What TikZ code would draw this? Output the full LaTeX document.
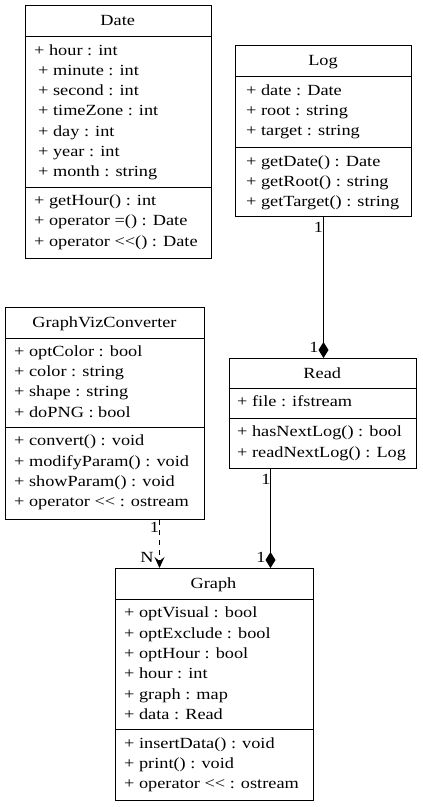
\documentclass[tikz,border=0pt]{standalone}
\usepackage{fontspec}
\setmainfont{Liberation Serif}[FakeStretch=1.18]
\usetikzlibrary{arrows.meta}

\tikzset{
    classbox/.style={draw, line width=1pt, anchor=north west, inner sep=0pt},
    classname/.style={anchor=base, inner sep=0pt, font=\fontsize{15.5}{17}\selectfont},
    member/.style={anchor=base west, inner sep=0pt, font=\fontsize{15.5}{17}\selectfont},
    mult/.style={inner sep=0pt, font=\fontsize{15.5}{17}\selectfont},
    divider/.style={line width=1pt},
    composition/.style={line width=1pt, -{Diamond[length=16pt,width=10pt]}},
    dependency/.style={line width=1pt, dash pattern=on 5pt off 5pt,
        -{Stealth[length=11pt,width=10pt,inset=4pt]}},
}

\begin{document}
\begin{tikzpicture}[x=1pt,y=-1pt]
    \useasboundingbox (0,0) rectangle (423,807);

    % Date
    \node[classbox, minimum width=186.5pt, minimum height=252.5pt] (date) at (24.5,5) {};
    \node[classname] (date-name) at (117.75,25.7) {Date};
    \draw[divider] (date.west |- 0,36.7) -- (date.east |- 0,36.7);
    \draw[divider] (date.west |- 0,187.3) -- (date.east |- 0,187.3);
    \foreach \txt [count=\i] in {+ hour : int, \hspace*{4pt}+ minute : int,
        \hspace*{4pt}+ second : int, \hspace*{4pt}+ timeZone : int,
        \hspace*{4pt}+ day : int, \hspace*{4pt}+ year : int,
        \hspace*{4pt}+ month : string} {
        \node[member] (date-a\i) at (34,34.7+20.3*\i) {\txt};
    }
    \foreach \txt [count=\i] in {+ getHour() : int, + operator =() : Date,
        + operator <{}<() : Date} {
        \node[member] (date-m\i) at (34,185.3+20.3*\i) {\txt};
    }

    % Log
    \node[classbox, minimum width=176pt, minimum height=171pt] (log) at (235,45) {};
    \node[classname] (log-name) at (323,65.7) {Log};
    \draw[divider] (log.west |- 0,76.7) -- (log.east |- 0,76.7);
    \draw[divider] (log.west |- 0,147.7) -- (log.east |- 0,147.7);
    \foreach \txt [count=\i] in {+ date : Date, + root : string, + target : string} {
        \node[member] (log-a\i) at (246,74.7+20.3*\i) {\txt};
    }
    \foreach \txt [count=\i] in {+ getDate() : Date, + getRoot() : string,
        + getTarget() : string} {
        \node[member] (log-m\i) at (246,145.7+20.3*\i) {\txt};
    }

    % Read
    \node[classbox, minimum width=187.5pt, minimum height=110pt] (read) at (228.5,358) {};
    \node[classname] (read-name) at (322.25,378.7) {Read};
    \draw[divider] (read.west |- 0,388.5) -- (read.east |- 0,388.5);
    \draw[divider] (read.west |- 0,418.5) -- (read.east |- 0,418.5);
    \node[member] (read-a1) at (237,406.8) {+ file : ifstream};
    \foreach \txt [count=\i] in {+ hasNextLog() : bool, + readNextLog() : Log} {
        \node[member] (read-m\i) at (237,416.5+20.3*\i) {\txt};
    }

    % GraphVizConverter
    \node[classbox, minimum width=199pt, minimum height=212pt] (converter) at (5,307) {};
    \node[classname] (converter-name) at (104.5,327.7) {GraphVizConverter};
    \draw[divider] (converter.west |- 0,338) -- (converter.east |- 0,338);
    \draw[divider] (converter.west |- 0,427.5) -- (converter.east |- 0,427.5);
    \foreach \txt [count=\i] in {+ optColor : bool, + color : string,
        + shape : string, + doPNG : bool} {
        \node[member] (converter-a\i) at (14,336+20.3*\i) {\txt};
    }
    \foreach \txt [count=\i] in {+ convert() : void, + modifyParam() : void,
        + showParam() : void, + operator <{}< : ostream} {
        \node[member] (converter-m\i) at (14,425.5+20.3*\i) {\txt};
    }

    % Graph
    \node[classbox, minimum width=198pt, minimum height=231.5pt] (graph) at (114.5,568) {};
    \node[classname] (graph-name) at (213.5,588.7) {Graph};
    \draw[divider] (graph.west |- 0,599.5) -- (graph.east |- 0,599.5);
    \draw[divider] (graph.west |- 0,729.8) -- (graph.east |- 0,729.8);
    \foreach \txt [count=\i] in {+ optVisual : bool, + optExclude : bool,
        + optHour : bool, + hour : int, + graph : map, + data : Read} {
        \node[member] (graph-a\i) at (124,597.5+20.3*\i) {\txt};
    }
    \foreach \txt [count=\i] in {+ insertData() : void, + print() : void,
        + operator <{}< : ostream} {
        \node[member] (graph-m\i) at (124,727.8+20.3*\i) {\txt};
    }

    % relations
    \coordinate (readlink) at (270.5,0);
    \coordinate (convlink) at (159.5,0);
    \draw[composition] (log.south) -- (read.north -| log.south);
    \draw[composition] (read.south -| readlink) -- (graph.north -| readlink);
    \draw[dependency] (converter.south -| convlink) -- (graph.north -| convlink);

    \node[mult] (log-mult) at (318.5,227) {1};
    \node[mult] (read-top-mult) at (314,347) {1};
    \node[mult] (read-bottom-mult) at (266,479) {1};
    \node[mult] (graph-read-mult) at (261,557) {1};
    \node[mult] (converter-mult) at (154.5,527) {1};
    \node[mult] (graph-conv-mult) at (147,557) {N};
\end{tikzpicture}
\end{document}
